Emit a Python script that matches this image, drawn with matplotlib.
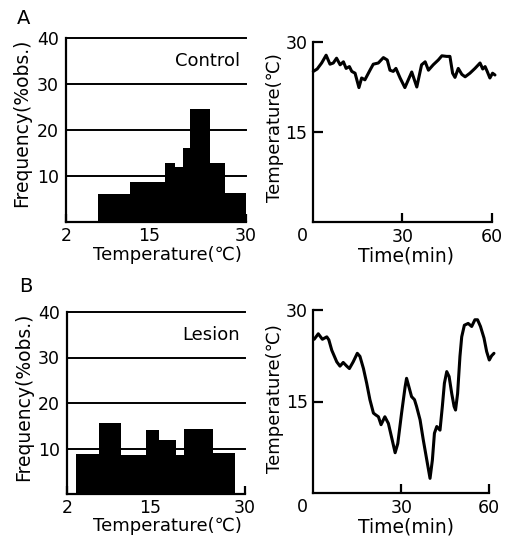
import matplotlib
matplotlib.use("Agg")
import matplotlib.pyplot as plt
import numpy as np

plt.rcParams['font.family'] = ['DejaVu Sans']

W, H = 509, 540

# Temperature-preference histograms (bin edges in deg C, frequency in % of observations)
ctrl_edges = [7.0, 12.0, 17.4, 19.0, 20.2, 21.3, 24.4, 26.8, 30.0]
ctrl_freq = [6.0, 8.7, 12.9, 12.0, 16.0, 24.5, 12.9, 6.2]

les_edges = [3.4, 7.1, 10.5, 14.4, 16.4, 19.1, 20.4, 24.9, 28.4]
les_freq = [8.8, 15.5, 8.6, 14.1, 11.9, 8.6, 14.3, 9.0]

hist_yticks = [10, 20, 30, 40]
hist_xticks = [2, 15, 30]

# Body temperature traces over one hour
ctrl_time = [0.1, 1.4, 2.9, 4.4, 5.7, 6.8, 7.9, 9.1, 10.2, 11.1, 12.2, 13.0, 14.1,
             15.4, 16.3, 17.4, 19.1, 20.2, 21.9, 23.6, 24.9, 25.8, 26.9, 27.8, 29.2,
             30.8, 33.1, 34.8, 36.4, 37.6, 38.7, 40.3, 42.0, 43.2, 44.8, 45.9, 46.8,
             47.6, 48.7, 49.9, 51.0, 52.6, 54.3, 56.0, 56.9, 57.7, 58.4, 59.3, 60.2, 61.0]
ctrl_temp = [25.1, 25.5, 26.5, 27.8, 26.3, 26.5, 27.3, 26.2, 26.7, 25.6, 25.9, 25.1, 24.8,
             22.4, 24.0, 23.7, 25.3, 26.3, 26.5, 27.4, 27.0, 25.3, 25.1, 25.6, 24.0,
             22.4, 25.0, 22.5, 26.2, 26.7, 25.3, 26.2, 27.0, 27.7, 27.6, 27.6, 24.8,
             24.1, 25.6, 24.6, 24.2, 24.8, 25.6, 26.5, 25.5, 25.9, 25.1, 24.0, 24.8, 24.5]

les_time = [0.3, 1.7, 3.1, 4.6, 5.3, 6.3, 8.0, 9.1, 10.2, 11.4, 12.3, 13.6, 15.0, 15.9,
            17.1, 18.2, 19.3, 20.5, 21.3, 22.2, 23.1, 24.4, 25.6, 26.9, 27.9, 28.8,
            30.1, 31.3, 31.8, 32.6, 33.5, 34.5, 35.2, 36.4, 37.5, 38.7, 39.8, 40.6,
            41.3, 42.1, 43.2, 44.0, 44.7, 45.5, 46.3, 47.2, 48.0, 48.5, 49.2, 50.0,
            50.6, 51.5, 52.8, 54.0, 55.1, 56.0, 57.0, 58.2, 59.1, 60.0, 60.8, 61.6]
les_temp = [25.2, 26.1, 25.2, 25.6, 25.1, 23.4, 21.5, 20.8, 21.4, 20.8, 20.4, 21.5, 22.9, 22.4,
            20.4, 18.0, 15.3, 13.1, 12.8, 12.5, 11.2, 12.5, 11.4, 8.7, 6.6, 8.1,
            13.1, 17.4, 18.8, 17.4, 15.8, 15.3, 14.2, 12.0, 8.7, 5.4, 2.4, 5.4,
            9.8, 10.9, 10.3, 14.2, 18.0, 19.9, 19.1, 16.3, 14.2, 13.6, 16.3, 22.4,
            25.6, 27.5, 27.8, 27.3, 28.4, 28.4, 27.3, 25.4, 23.2, 21.8, 22.5, 22.9]

trace_yticks = [15, 30]
trace_xticks = [30, 60]

TICK_FS = 12.5
LABEL_FS = 13.5
LW = 1.6


def px_axes(fig, left, top, right, bottom):
    return fig.add_axes([left / W, 1 - bottom / H, (right - left) / W, (bottom - top) / H])


def ftext(fig, x, y, s, **kw):
    kw.setdefault('ha', 'center')
    kw.setdefault('va', 'center')
    fig.text(x / W, 1 - y / H, s, **kw)


def draw_hist(ax, edges, freq, name):
    edges = np.asarray(edges)
    ax.bar(edges[:-1], freq, width=np.diff(edges), align='edge',
           color='black', edgecolor='none', zorder=2)
    ax.set_xlim(2, 30)
    ax.set_ylim(0, 40)
    ax.set_yticks(hist_yticks)
    ax.set_xticks(hist_xticks)
    ax.set_xticklabels([str(t) for t in hist_xticks])
    for v in hist_yticks:
        ax.axhline(v, color='black', lw=1.4, zorder=1, clip_on=False)
    for s in ['top', 'right']:
        ax.spines[s].set_visible(False)
    for s in ['left', 'bottom']:
        ax.spines[s].set_linewidth(LW)
    ax.tick_params(axis='y', length=0, pad=5, labelsize=TICK_FS)
    ax.tick_params(axis='x', direction='in', length=6, width=LW, pad=3.5,
                   labelsize=TICK_FS)
    ax.text(0.97, 0.875, name, transform=ax.transAxes, ha='right', va='center',
            fontsize=13)


def draw_trace(ax, t, temp, xmax):
    ax.plot(t, temp, color='black', lw=2.2, solid_joinstyle='round',
            solid_capstyle='round', clip_on=False)
    ax.set_xlim(0, xmax)
    ax.set_ylim(0, 30)
    ax.set_yticks(trace_yticks)
    ax.set_xticks(trace_xticks)
    for s in ['top', 'right']:
        ax.spines[s].set_visible(False)
    ax.spines['left'].set_bounds(0, 30)
    ax.spines['bottom'].set_bounds(0, 60)
    for s in ['left', 'bottom']:
        ax.spines[s].set_linewidth(LW)
    ax.tick_params(axis='y', direction='in', length=7, width=LW, pad=4,
                   labelsize=TICK_FS)
    ax.tick_params(axis='x', direction='in', length=6.5, width=LW, pad=4,
                   labelsize=TICK_FS)
    ax.annotate('0', xy=(0, 0), xycoords='data', xytext=(-11, -14),
                textcoords='offset pixels', ha='center', va='center',
                fontsize=TICK_FS, annotation_clip=False)


fig = plt.figure(figsize=(W / 100, H / 100), dpi=100)

# Panel A: control animal
ax1 = px_axes(fig, 66, 38, 246, 222)
draw_hist(ax1, ctrl_edges, ctrl_freq, 'Control')
ax2 = px_axes(fig, 313, 42, 313 + 61.5 * 2.983, 222)
draw_trace(ax2, ctrl_time, ctrl_temp, 61.5)

# Panel B: lesioned animal
ax3 = px_axes(fig, 67, 312, 245, 494)
draw_hist(ax3, les_edges, les_freq, 'Lesion')
ax4 = px_axes(fig, 313.3, 310, 313.3 + 62 * 2.933, 493)
draw_trace(ax4, les_time, les_temp, 62)

# Axis titles and panel letters
ftext(fig, 24, 18, 'A', fontsize=14)
ftext(fig, 26, 286, 'B', fontsize=14)

ftext(fig, 22, 123, 'Frequency(%obs.)', fontsize=LABEL_FS, rotation=90)
ftext(fig, 24, 397, 'Frequency(%obs.)', fontsize=LABEL_FS, rotation=90)
ftext(fig, 167, 255, 'Temperature(℃)', fontsize=13)
ftext(fig, 167, 526, 'Temperature(℃)', fontsize=13)

ftext(fig, 275, 128, 'Temperature(℃)', fontsize=13, rotation=90)
ftext(fig, 275, 399, 'Temperature(℃)', fontsize=13, rotation=90)
ftext(fig, 406, 256, 'Time(min)', fontsize=13.5)
ftext(fig, 406, 527, 'Time(min)', fontsize=13.5)

fig.savefig('out.png', dpi=100, facecolor='white')
